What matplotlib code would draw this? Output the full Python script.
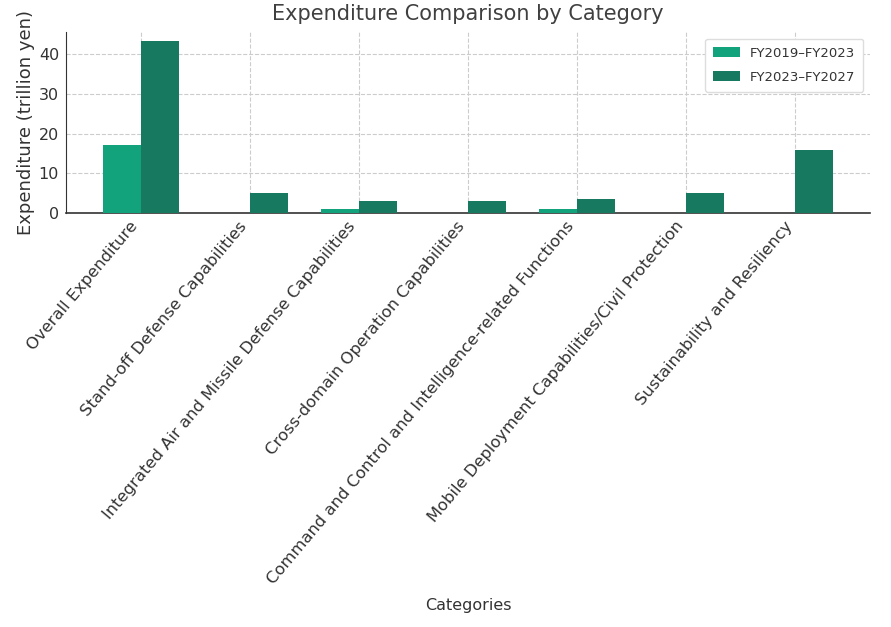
import matplotlib
matplotlib.use("Agg")
import matplotlib.pyplot as plt
import numpy as np

categories = ["Overall Expenditure", "Stand-off Defense Capabilities",
              "Integrated Air and Missile Defense Capabilities",
              "Cross-domain Operation Capabilities",
              "Command and Control and Intelligence-related Functions",
              "Mobile Deployment Capabilities/Civil Protection",
              "Sustainability and Resiliency"]
fy2019_2023 = [17.2, 0, 1.0, 0, 1.0, 0, 0]
fy2023_2027 = [43.5, 5.0, 3.0, 3.0, 3.5, 5.0, 16.0]
series_labels = ["FY2019\u2013FY2023", "FY2023\u2013FY2027"]

plt.rcParams['font.family'] = ['DejaVu Sans']
fig = plt.figure(figsize=(8.91, 6.27), dpi=100)
ax = fig.add_axes([66/891, 1-213/627, (870-66)/891, (213-32)/627])

x = np.arange(len(categories))
w = 0.35
ax.bar(x - w/2, fy2019_2023, w, color="#13a37c", label=series_labels[0], zorder=3)
ax.bar(x + w/2, fy2023_2027, w, color="#177a60", label=series_labels[1], zorder=3)

ax.set_xticks(x)
ax.set_xticklabels(categories, rotation=50, ha='right', rotation_mode='default',
                   fontsize=11.8, color='#333333')
ax.tick_params(axis='y', labelsize=11.5, colors='#333333', length=0, pad=5)
ax.tick_params(axis='x', length=0, pad=4)
ax.set_yticks([0, 10, 20, 30, 40])
ax.grid(True, linestyle='--', color='#cccccc', linewidth=0.8, zorder=0)
for s in ['top', 'right']:
    ax.spines[s].set_visible(False)
ax.spines['left'].set_color('#333333')
ax.spines['bottom'].set_color('#333333')
ax.spines['bottom'].set_linewidth(1.2)

ax.set_title("Expenditure Comparison by Category", fontsize=15, color='#404040', pad=9)
ax.set_xlabel("Categories", fontsize=11.5, color='#333333', labelpad=8)
ax.set_ylabel("Expenditure (trillion yen)", fontsize=13, color='#333333', labelpad=3)
leg = ax.legend(fontsize=9.5, loc='upper right', framealpha=1, edgecolor='#dddddd',
                labelspacing=0.85, borderpad=0.6, borderaxespad=0.5)
for t in leg.get_texts():
    t.set_color('#333333')

fig.savefig("out.png", dpi=100)
